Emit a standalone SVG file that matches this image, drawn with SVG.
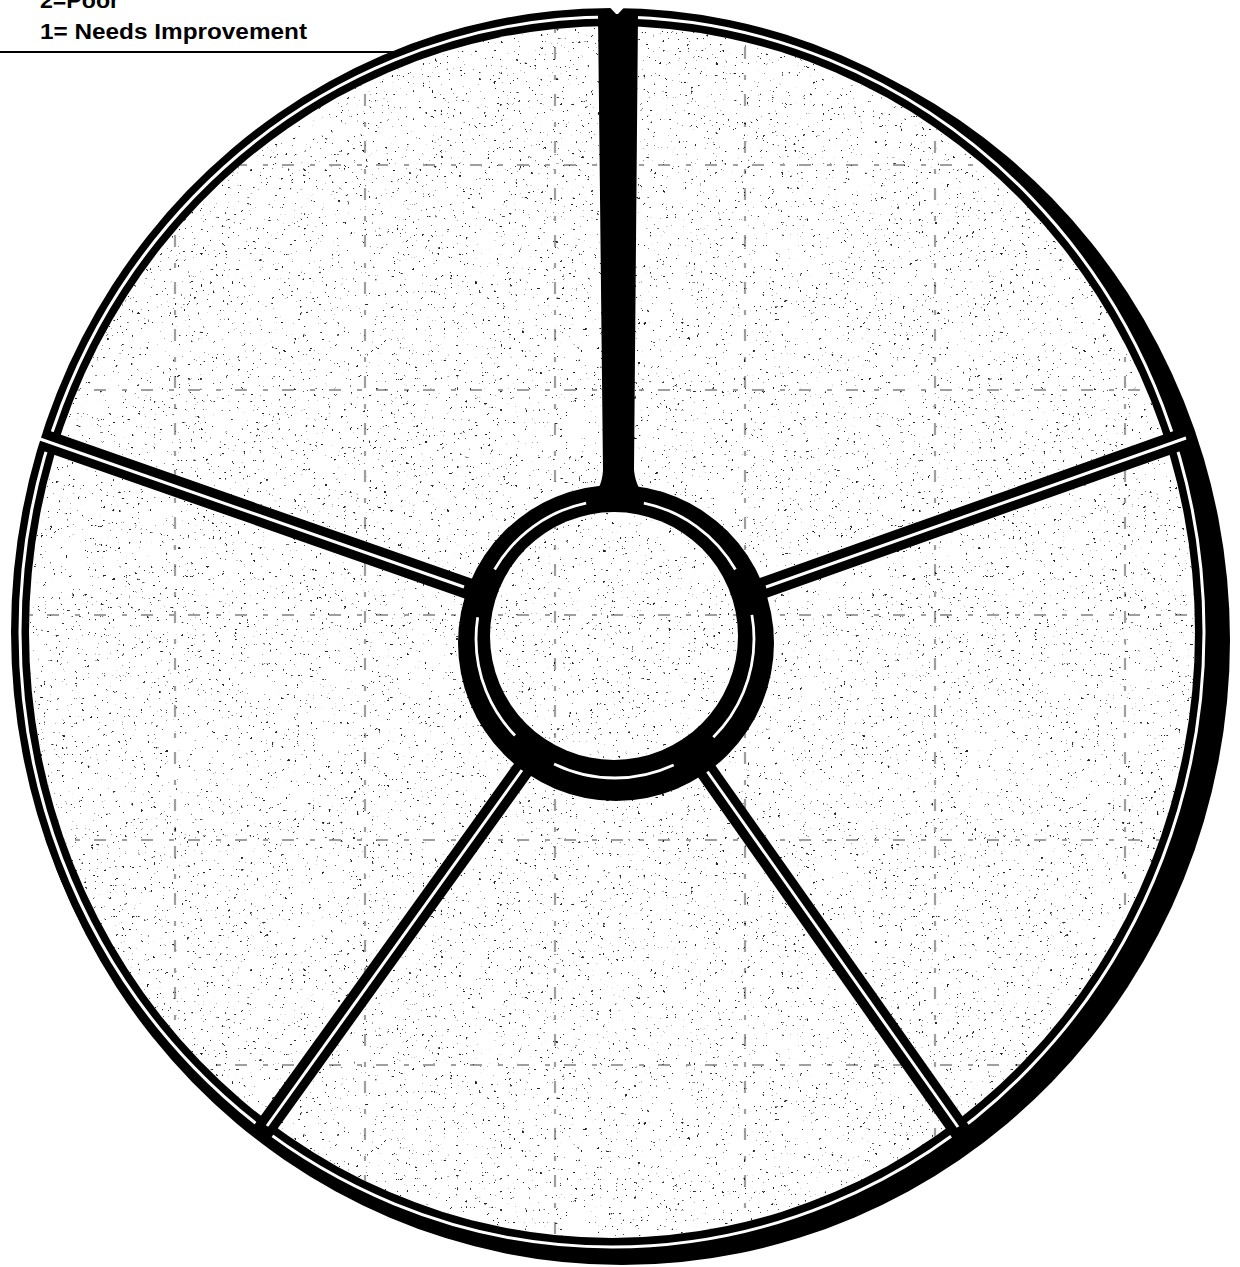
<svg xmlns="http://www.w3.org/2000/svg" xmlns:xlink="http://www.w3.org/1999/xlink" width="1240" height="1267" viewBox="0 0 1240 1267">
  <style>
    .legend { font-family: "Liberation Sans", "DejaVu Sans", sans-serif; font-weight: bold; font-size: 22px; fill: #000; }
    .rule { stroke: #000; stroke-width: 2; fill: none; }
    .grid line { stroke: #111; stroke-width: 2.2; stroke-dasharray: 12 16 5 14; opacity: 0.4; }
    .spoke-black { stroke: #000; stroke-width: 21; stroke-linecap: butt; fill: none; }
    .spoke-white { stroke: #fff; stroke-width: 3; fill: none; }
  </style>
  <defs>
    <filter id="speck" x="0" y="0" width="1" height="1" filterUnits="objectBoundingBox">
      <feTurbulence type="fractalNoise" baseFrequency="0.32" numOctaves="3" seed="11" result="n"/>
      <feColorMatrix in="n" type="matrix" values="0 0 0 0 0  0 0 0 0 0  0 0 0 0 0  18 0 0 0 -13.2"/>
    </filter>
    <clipPath id="wheelClip">
      <ellipse cx="612" cy="632" rx="583" ry="606"/>
    </clipPath>
    <clipPath id="hubClip">
      <circle cx="614" cy="636" r="124"/>
    </clipPath>
    <g id="gridLines" class="grid">
      <line x1="175" y1="0" x2="175" y2="1267"/>
      <line x1="365" y1="0" x2="365" y2="1267"/>
      <line x1="555" y1="0" x2="555" y2="1267"/>
      <line x1="745" y1="0" x2="745" y2="1267"/>
      <line x1="935" y1="0" x2="935" y2="1267"/>
      <line x1="1125" y1="0" x2="1125" y2="1267"/>
      <line x1="0" y1="165" x2="1240" y2="165"/>
      <line x1="0" y1="390" x2="1240" y2="390"/>
      <line x1="0" y1="615" x2="1240" y2="615"/>
      <line x1="0" y1="840" x2="1240" y2="840"/>
      <line x1="0" y1="1065" x2="1240" y2="1065"/>
    </g>
    <rect id="speckRect" x="0" y="0" width="1240" height="1267" filter="url(#speck)"/>
  </defs>

  <rect x="0" y="0" width="1240" height="1267" fill="#fff"/>

  <g id="legend">
    <text class="legend" x="40" y="8" textLength="79" lengthAdjust="spacingAndGlyphs">2=Poor</text>
    <text class="legend" x="40" y="39" textLength="267" lengthAdjust="spacingAndGlyphs">1= Needs Improvement</text>
    <line class="rule" x1="0" y1="52" x2="400" y2="52"/>
  </g>

  <g id="rim">
    <ellipse cx="622" cy="640" rx="608" ry="625" fill="#000"/>
    <ellipse cx="612" cy="632" rx="601" ry="624" fill="#000"/>
    <ellipse cx="612" cy="632" rx="583" ry="606" fill="#fff"/>
  </g>

  <g id="wheel-background" clip-path="url(#wheelClip)">
    <use xlink:href="#gridLines"/>
    <use xlink:href="#speckRect" opacity="0.85"/>
  </g>

  <g id="rim-line">
    <ellipse cx="612" cy="632" rx="592" ry="615" fill="none" stroke="#fff" stroke-width="3"/>
    <polygon points="603,0 617,15 631,0" fill="#fff"/>
  </g>

  <g id="connectors">
    <path id="spoke-top" d="M598 14 L638 14 L634 470 Q636 492 652 500 L586 500 Q602 492 603 470 Z" fill="#000"/>
    <g id="spoke-upper-right">
      <line class="spoke-black" x1="1180" y1="440" x2="752" y2="592"/>
      <line class="spoke-white" x1="1186" y1="438" x2="766" y2="587"/>
    </g>
    <g id="spoke-lower-right">
      <line class="spoke-black" x1="963" y1="1135" x2="698" y2="759"/>
      <line class="spoke-white" x1="958" y1="1127" x2="707" y2="771"/>
    </g>
    <g id="spoke-lower-left">
      <line class="spoke-black" x1="260" y1="1135" x2="531" y2="758"/>
      <line class="spoke-white" x1="267" y1="1126" x2="522" y2="770"/>
    </g>
    <g id="spoke-upper-left">
      <line class="spoke-black" x1="44" y1="440" x2="478" y2="592"/>
      <line class="spoke-white" x1="40" y1="439" x2="464" y2="587"/>
    </g>
  </g>

  <g id="hub">
    <circle cx="616" cy="643" r="158" fill="#000"/>
    <circle cx="615" cy="639" r="139" fill="none" stroke="#fff" stroke-width="2.8" pathLength="360" stroke-dasharray="45 20 51 20 53 21 48 24 48 20 10 0"/>
    <circle cx="614" cy="636" r="124" fill="#fff"/>
    <g clip-path="url(#hubClip)">
      <use xlink:href="#gridLines"/>
      <use xlink:href="#speckRect" opacity="0.85"/>
    </g>
  </g>
</svg>
